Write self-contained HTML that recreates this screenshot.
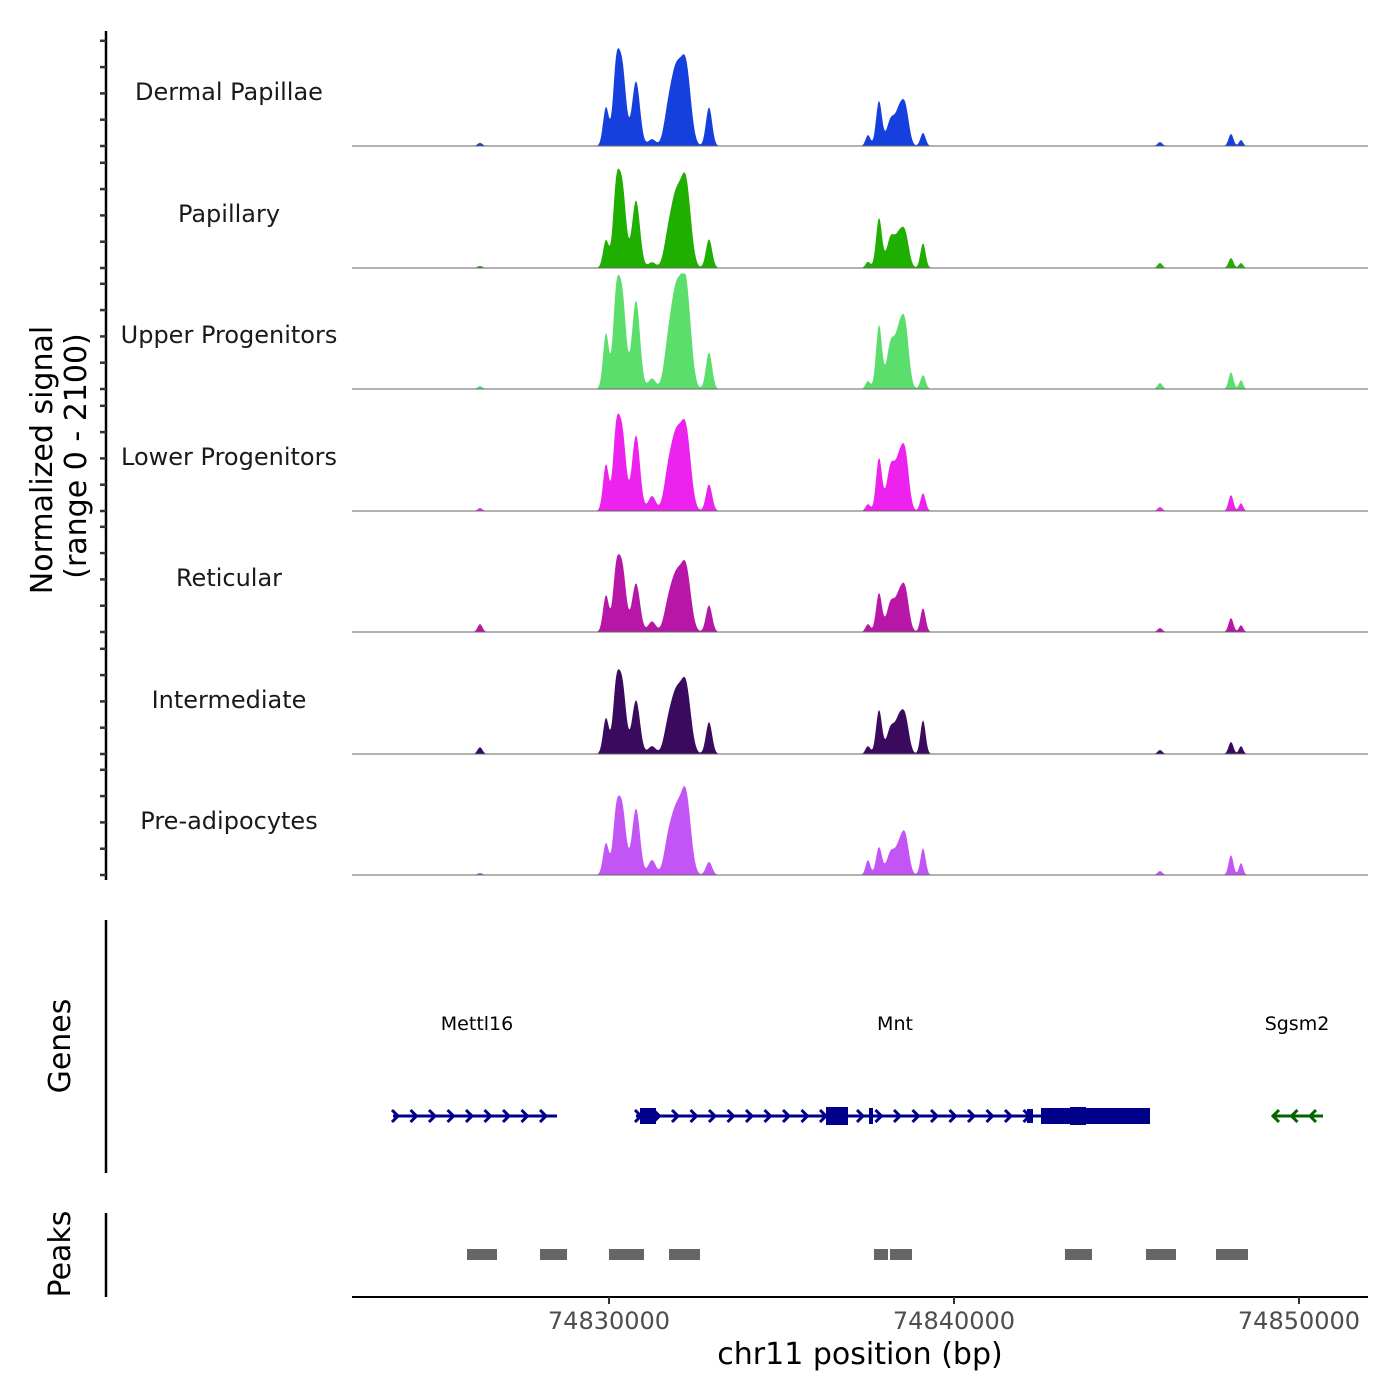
<!DOCTYPE html>
<html><head><meta charset="utf-8"><style>
body{margin:0;background:#fff}
svg{display:block;font-family:"DejaVu Sans","Liberation Sans",sans-serif}
</style></head><body>
<svg id="c" width="1400" height="1400" viewBox="0 0 1400 1400">
<rect width="1400" height="1400" fill="#fff"/>
<g id="tracks"></g>
<line x1="106" y1="31" x2="106" y2="880" stroke="#000" stroke-width="2.5"/>
<g id="yticks"></g>
<text transform="translate(52,460) rotate(-90)" text-anchor="middle" font-size="30">Normalized signal</text>
<text transform="translate(86,456) rotate(-90)" text-anchor="middle" font-size="30">(range 0 - 2100)</text>
<line x1="106" y1="920" x2="106" y2="1173" stroke="#000" stroke-width="2.5"/>
<text transform="translate(70,1046) rotate(-90)" text-anchor="middle" font-size="30">Genes</text>
<g id="genes"></g>
<line x1="106" y1="1213" x2="106" y2="1297" stroke="#000" stroke-width="2.5"/>
<text transform="translate(70,1254) rotate(-90)" text-anchor="middle" font-size="30">Peaks</text>
<g id="peaks"></g>
<line x1="352" y1="1297" x2="1368" y2="1297" stroke="#000" stroke-width="2"/>
<g id="xticks"></g>
<text x="860" y="1364" text-anchor="middle" font-size="30">chr11 position (bp)</text>
</svg>
<script>
const trackNames=["Dermal Papillae","Papillary","Upper Progenitors","Lower Progenitors","Reticular","Intermediate","Pre-adipocytes"];
const trackColors=["#1640de","#1faf00","#5bde6c","#ee22ee","#b816a6","#3a0a5e","#c455f5"];
const peakCenters=[74826261,74829913,74830200,74830380,74830783,74831247,74831700,74831942,74832232,74832899,74837507,74837826,74838174,74838400,74838580,74839102,74845971,74848029,74848319];
const peakWidths=[70,85,90,110,115,110,120,150,140,90,70,85,120,100,110,75,70,70,60];
const sig0=[60,740,1300,1500,1235,130,500,1360,1460,740,210,855,520,500,750,250,75,230,115];
const sig1=[40,530,1300,1545,1290,110,450,1285,1570,550,120,950,600,450,650,475,95,190,95];
const sig2=[55,1060,1500,1775,1690,200,600,1750,1900,700,150,1215,900,800,1200,265,115,320,170];
const sig3=[55,890,1300,1490,1445,285,550,1345,1475,510,130,1005,880,700,1095,340,75,305,150];
const sig4=[150,700,1000,1230,930,200,400,1000,1170,510,150,740,580,500,800,455,75,265,130];
const sig5=[130,685,1100,1330,1025,150,420,1080,1250,610,150,835,520,500,700,645,75,230,150];
const sig6=[40,610,1000,1275,1270,285,500,1135,1475,250,285,530,450,400,750,510,75,380,230];
const signals=[sig0,sig1,sig2,sig3,sig4,sig5,sig6];
const xTicks=[74830000,74840000,74850000];
const peakStarts=[74825884,74828000,74830000,74831740,74837681,74838145,74843217,74845565,74847594];
const peakEnds=[74826754,74828783,74831015,74832638,74838087,74838783,74844000,74846435,74848522];
const xMin=74822551,xMax=74852000,yMax=2100;
const X=v=>352+(v-xMin)/(xMax-xMin)*1016;
const baselines=[146,268,389,511,632,754,875];
const trackH=110;
const NS="http://www.w3.org/2000/svg";
function mk(tag,attrs,parent){const e=document.createElementNS(NS,tag);for(const k in attrs)e.setAttribute(k,attrs[k]);parent.appendChild(e);return e;}
const tg=document.getElementById('tracks');
signals.forEach((s,ti)=>{
  const b=baselines[ti];
  const g=mk('g',{},tg);
  
  
  let d='M352,'+b;
  for(let px=352;px<=1368;px+=1){
    const bp=xMin+(px-352)/1016*(xMax-xMin);
    let v=0;
    for(let i=0;i<peakCenters.length;i++){const z=(bp-peakCenters[i])/peakWidths[i];v+=s[i]*Math.exp(-z*z/2);}
    v=Math.min(v,yMax*1.05);
    d+=' L'+px+','+(b-v/yMax*trackH).toFixed(1);
  }
  d+=' L1368,'+b+' Z';
  const p=mk('path',{d:d,fill:trackColors[ti]},g);
  
  
  const l=mk('line',{x1:352,x2:1368,y1:b,y2:b,stroke:'#666','stroke-width':1},g);
  
  
  const t=mk('text',{x:229,y:b-46,'text-anchor':'middle','font-size':24,fill:'#1a1a1a'},g);
  t.textContent=trackNames[ti];
  
  
  for(let k=0;k<5;k++){
    const tk=mk('line',{x1:100,x2:106,y1:b-k*26.3,y2:b-k*26.3,stroke:'#333','stroke-width':2.5},document.getElementById('yticks'));
    
    
  }
});
const xg=document.getElementById('xticks');
xTicks.forEach(v=>{
  const l=mk('line',{x1:X(v),x2:X(v),y1:1297,y2:1304,stroke:'#333','stroke-width':2},xg);
  
  
  const t=mk('text',{x:X(v),y:1329,'text-anchor':'middle','font-size':24,fill:'#4d4d4d'},xg);
  t.textContent=v;
  
  
});
const pg=document.getElementById('peaks');
peakStarts.forEach((s,i)=>{
  const r=mk('rect',{x:X(s),y:1249,width:X(peakEnds[i])-X(s),height:11,fill:'#666'},pg);
  
  
});
const gg=document.getElementById('genes');
function gene(name,x1,x2,color,dir,lx,exons){
  const g=mk('g',{},gg);
  
  
  const t=mk('text',{x:lx,y:1030,'text-anchor':'middle','font-size':19,fill:'#000'},g);
  t.textContent=name;
  
  
  mk('line',{x1:x1,x2:x2,y1:1116,y2:1116,stroke:color,'stroke-width':3},g);
  for(let x=x1+3;x<=x2;x+=18.5){
    const p=dir>0?`M${x-4},1110 L${x+2},1116 L${x-4},1122`:`M${x+4},1110 L${x-2},1116 L${x+4},1122`;
    mk('path',{d:p,stroke:color,'stroke-width':3,fill:'none'},g);
  }
  exons.forEach(e=>mk('rect',{x:e[0],y:1116-e[2]/2,width:e[1]-e[0],height:e[2],fill:color},g));
}
gene('Mettl16',393,557,'#00008b',1,477,[]);
gene('Mnt',636,1150,'#00008b',1,895,[[640,656,16],[826,848,18],[869,873,16],[1027,1033,14],[1041,1150,16],[1070,1086,18]]);
gene('Sgsm2',1272,1323,'#006400',-1,1297,[]);
</script>
</body></html>
